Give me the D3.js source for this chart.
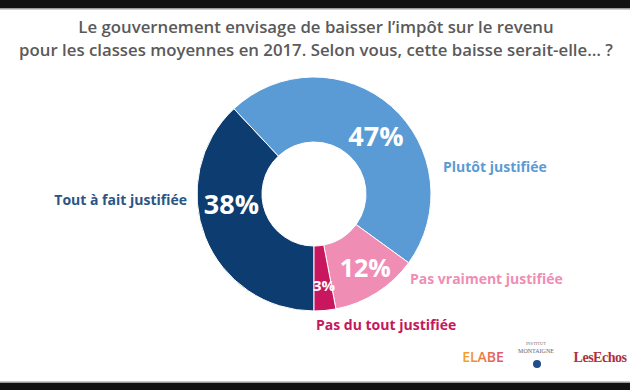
<!DOCTYPE html>
<html><head><meta charset="utf-8">
<script src="https://cdn.jsdelivr.net/npm/d3@7"></script>
<style>html,body{margin:0;padding:0;background:#fff;}svg{display:block;}</style>
</head><body>
<svg id="chart" width="630" height="390"></svg>
<script>
const categories = ["Tout à fait justifiée", "Plutôt justifiée", "Pas vraiment justifiée", "Pas du tout justifiée"];
const values = [38, 47, 12, 3];
const valueLabels = ["38%", "47%", "12%", "3%"];
const titleLines = ["Le gouvernement envisage de baisser l\u2019impôt sur le revenu", "pour les classes moyennes en 2017. Selon vous, cette baisse serait-elle\u2026 ?"];

const sliceColors = ["#0d3c70", "#5b9bd5", "#ef8db5", "#c8175e"];
const textColors = ["#2b5585", "#5b9bd5", "#ef8db5", "#c4185c"];
const font = "'Open Sans', 'DejaVu Sans', sans-serif";

const svg = d3.select("#chart");
// frame bars
svg.append("rect").attr("x",0).attr("y",0).attr("width",630).attr("height",8).attr("fill","#111");
svg.append("rect").attr("x",0).attr("y",8).attr("width",630).attr("height",1.5).attr("fill","#999");
svg.append("rect").attr("x",0).attr("y",383).attr("width",630).attr("height",7).attr("fill","#111");
svg.append("rect").attr("x",0).attr("y",381.5).attr("width",630).attr("height",1.5).attr("fill","#999");

// title
svg.append("g").selectAll("text").data(titleLines).join("text")
  .attr("x",316).attr("y",(d,i)=>33+i*23)
  .attr("text-anchor","middle").attr("font-family",font).attr("font-size",16.8).attr("font-weight",600)
  .attr("fill","#5a5a5a").text(d=>d);

const cx = 314, cy = 194, rOuter = 117, rInner = 52;
const pie = d3.pie().sort(null).value(d=>d).startAngle(Math.PI).endAngle(3*Math.PI);
const arcs = pie(values);
const arc = d3.arc().innerRadius(rInner).outerRadius(rOuter);
const g = svg.append("g").attr("transform",`translate(${cx},${cy})`);
g.selectAll("path").data(arcs).join("path")
  .attr("d",arc).attr("fill",(d,i)=>sliceColors[i])
  .attr("stroke","#fff").attr("stroke-width",1);

// value labels near centroids
const labelArc = d3.arc().innerRadius(rInner).outerRadius(rOuter);
const labelShift = [[-4,-21],[6,6],[6,3],[2,7]];
const labelSize = [27,27,25,15];
g.selectAll("text.val").data(arcs).join("text").attr("class","val")
  .attr("x",(d,i)=>labelArc.centroid(d)[0]+labelShift[i][0])
  .attr("y",(d,i)=>labelArc.centroid(d)[1]+labelShift[i][1])
  .attr("dy","0.36em")
  .attr("text-anchor","middle").attr("font-family",font).attr("font-weight",700)
  .attr("font-size",(d,i)=>labelSize[i]).attr("fill","#fff")
  .text((d,i)=>valueLabels[i]);

// category labels
const catPos = [[187,205,"end"],[443,172,"start"],[410,284,"start"],[316,330,"start"]];
svg.append("g").selectAll("text").data(categories).join("text")
  .attr("x",(d,i)=>catPos[i][0]).attr("y",(d,i)=>catPos[i][1])
  .attr("text-anchor",(d,i)=>catPos[i][2])
  .attr("font-family",font).attr("font-weight",700).attr("font-size",14)
  .attr("fill",(d,i)=>textColors[i]).text(d=>d);

// logos
const defs = svg.append("defs");
const grad = defs.append("linearGradient").attr("id","elabe");
grad.append("stop").attr("offset","0%").attr("stop-color","#f5a623");
grad.append("stop").attr("offset","100%").attr("stop-color","#e0506a");
svg.append("text").attr("x",483).attr("y",362).attr("text-anchor","middle")
  .attr("font-family",font).attr("font-weight",600).attr("font-size",14)
  .attr("fill","url(#elabe)").text("ELABE");
svg.append("text").attr("x",536).attr("y",345).attr("text-anchor","middle")
  .attr("font-family","'Liberation Serif', serif").attr("font-size",4.5).attr("fill","#777").text("INSTITUT");
svg.append("text").attr("x",536).attr("y",353).attr("text-anchor","middle")
  .attr("font-family","'Liberation Serif', serif").attr("font-size",6).attr("fill","#666").text("MONTAIGNE");
svg.append("circle").attr("cx",537).attr("cy",364).attr("r",4).attr("fill","#1f4e8c");
svg.append("text").attr("x",600).attr("y",362).attr("text-anchor","middle")
  .attr("font-family","'Liberation Serif', serif").attr("font-weight",700).attr("font-size",14)
  .attr("letter-spacing",-0.5).attr("fill","#b03040").text("LesEchos");
</script>
</body></html>
